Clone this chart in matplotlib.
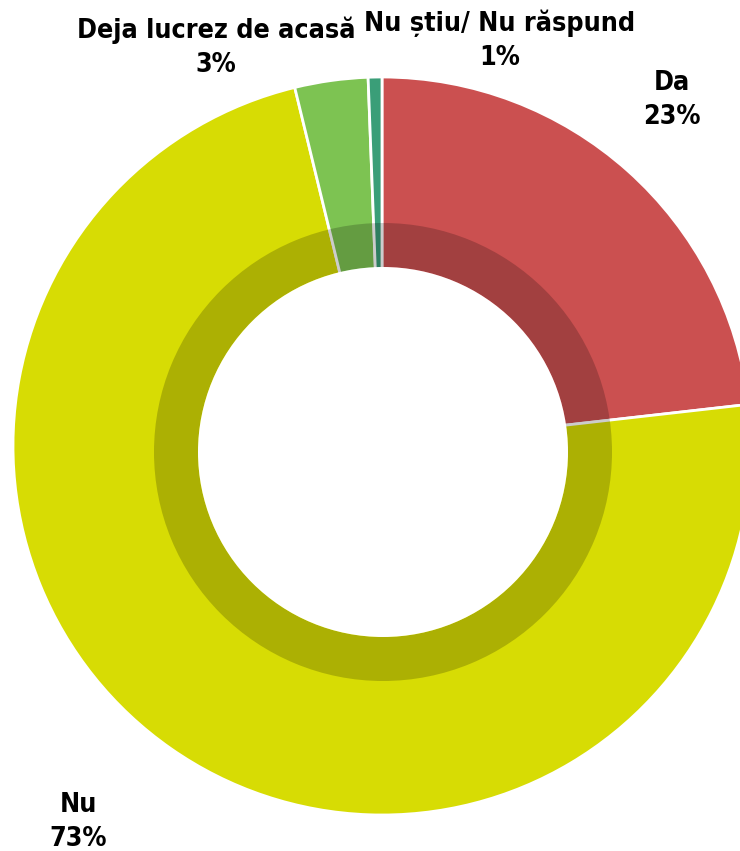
import matplotlib
matplotlib.use('Agg')
import matplotlib.pyplot as plt
from matplotlib.patches import Wedge, Circle

# answers, clockwise from 12 o'clock
labels = ['Da', 'Nu', 'Deja lucrez de acasă', 'Nu știu/ Nu răspund']
values = [23.2, 73.0, 3.2, 0.6]
pct_labels = ['23%', '73%', '3%', '1%']
colors = ['#CB5050', '#D7DC04', '#7DC352', '#3A9E78']

# label anchor points (pixels, y up)
label_pos = [(672, 751), (78, 29), (216, 804), (500, 811)]

W, H = 740, 851
fig = plt.figure(figsize=(W / 100, H / 100), dpi=100)
ax = fig.add_axes([0, 0, 1, 1])

R = 369
ax.pie(values, colors=colors, startangle=90, counterclock=False,
       radius=R, center=(382, 405), frame=True,
       wedgeprops=dict(width=R - 175, edgecolor='white', linewidth=2))
ax.set_xlim(0, W)
ax.set_ylim(0, H)
ax.set_aspect('equal')
ax.axis('off')

# darker inner band and the hole
ax.add_patch(Wedge((383, 399), 229, 0, 360, width=229 - 185,
                   facecolor='black', alpha=0.2, linewidth=0))
ax.add_patch(Circle((383, 399), 185, facecolor='white', linewidth=0))

for lab, pct, (x, y) in zip(labels, pct_labels, label_pos):
    ax.text(x, y, lab + '\n' + pct, ha='center', va='center',
            fontsize=19.3, fontweight='bold', fontstretch='condensed',
            color='black', linespacing=1.42, family=['DejaVu Sans'])

fig.savefig('out.png', dpi=100)
